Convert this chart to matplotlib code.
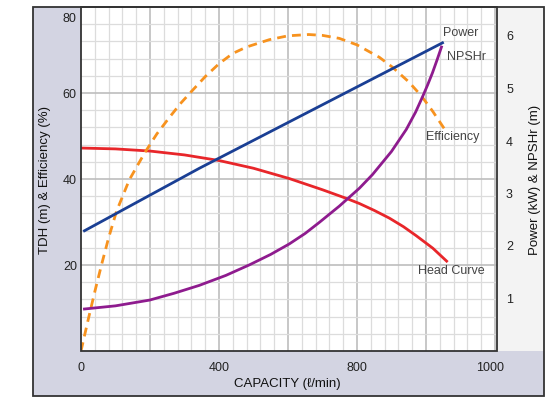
import numpy as np
import matplotlib.pyplot as plt
from matplotlib.patches import Rectangle

# data (capacity in l/min)
head_q = [0, 100, 200, 300, 400, 500, 604, 700, 769, 807, 850, 894, 935, 972, 1020, 1060]
head_h = [47.2, 47.0, 46.5, 45.6, 44.3, 42.5, 40.1, 37.5, 35.5, 34.3, 32.7, 30.9, 28.9, 26.8, 23.9, 20.9]

eff_q = [0, 20, 40, 60, 80, 103, 140, 184, 220, 257, 290, 323, 360, 400, 440, 480,
         546, 600, 660, 700, 749, 800, 865, 903, 950, 987, 1020, 1054]
eff_v = [0, 7.0, 13.8, 20.2, 26.3, 32.5, 39.8, 46.0, 50.5, 54.4, 57.7, 60.6, 63.8, 66.8, 69.2, 70.7,
         72.4, 73.3, 73.6, 73.4, 72.7, 71.2, 68.3, 66.0, 62.6, 59.3, 55.7, 51.6]

pow_q = [10, 343, 1048]
pow_v = [2.29, 3.48, 5.87]

npsh_q = [10, 100, 199, 270, 343, 420, 488, 550, 604, 650, 691, 749, 807, 845, 900,
          943, 970, 990, 1005, 1019, 1032, 1045]
npsh_v = [0.80, 0.86, 0.97, 1.10, 1.25, 1.44, 1.64, 1.84, 2.04, 2.24, 2.45, 2.76, 3.10, 3.36, 3.80,
          4.22, 4.55, 4.84, 5.07, 5.30, 5.54, 5.79]

xtick_pos = [0, 400, 800, 1185]
xtick_lab = ['0', '400', '800', '1000']
ytick_pos = [20, 40, 60, 77.5]
ytick_lab = ['20', '40', '60', '80']
rtick_pos = [1, 2, 3, 4, 5, 6]

W, H = 554, 398
fig = plt.figure(figsize=(W / 100, H / 100), dpi=100)
reg = ['Liberation Sans', 'DejaVu Sans']
lav = '#d3d4e2'
edge = '#333333'

def px(x0, y0, x1, y1, **kw):
    # rectangle in pixel coords (top-left origin)
    fig.patches.append(Rectangle((x0 / W, 1 - y1 / H), (x1 - x0) / W, (y1 - y0) / H,
                                 transform=fig.transFigure, **kw))

px(33, 7, 81, 351, facecolor=lav, edgecolor='none', zorder=-5)
px(33, 351, 544, 396, facecolor=lav, edgecolor='none', zorder=-5)
px(497, 7, 544, 351, facecolor='#f3f3f3', edgecolor='none', zorder=-5)
px(33, 7, 544, 396, facecolor='none', edgecolor=edge, lw=1.3, zorder=10)
px(81, 7, 497, 351, facecolor='none', edgecolor=edge, lw=1.3, zorder=10)

ax = fig.add_axes([81 / W, 1 - 351 / H, 416 / W, 344 / H])
ax.set_zorder(2)
ax.set_xlim(0, 1206)
ax.set_ylim(0, 80)
ax.set_facecolor('white')
for s in ax.spines.values():
    s.set_visible(False)

for x in np.arange(40, 1206, 40):
    major = (x % 200 == 0)
    ax.axvline(x, color='#bdbdbd' if major else '#dcdcdc', lw=1.2 if major else 0.9, zorder=0)
for y in np.arange(4, 80, 4):
    major = (y % 20 == 0)
    ax.axhline(y, color='#bdbdbd' if major else '#dcdcdc', lw=1.2 if major else 0.9, zorder=0)

ax.set_xticks(xtick_pos)
ax.set_xticklabels(xtick_lab, family=reg, fontsize=9, color='#222222')
ax.set_yticks(ytick_pos)
ax.set_yticklabels(ytick_lab, family=reg, fontsize=9, color='#222222')
ax.tick_params(length=0, pad=3)
ax.tick_params(axis='x', pad=8)

ax.plot(head_q, head_h, color='#e8262a', lw=2, zorder=3)
ax.plot(eff_q, eff_v, color='#f7921e', lw=2, ls=(0, (3.2, 2.2)), zorder=3)

ax2 = ax.twinx()
ax2.set_zorder(3)
ax2.set_ylim(0, 344 / 52.5)
for s in ax2.spines.values():
    s.set_visible(False)
ax2.set_yticks(rtick_pos)
ax2.set_yticklabels([str(v) for v in rtick_pos], family=reg, fontsize=9, color='#222222')
ax2.tick_params(length=0, pad=6.5)
ax2.plot(pow_q, pow_v, color='#1a3f94', lw=2, zorder=3)
ax2.plot(npsh_q, npsh_v, color='#8e1b8e', lw=2, zorder=3)

tc = '#444444'
ax2.text(1102, 6.06, 'Power', family=reg, fontsize=9, color=tc, ha='center', va='center')
ax2.text(1117, 5.60, 'NPSHr', family=reg, fontsize=9, color=tc, ha='center', va='center')
ax.text(1078, 49.8, 'Efficiency', family=reg, fontsize=9, color=tc, ha='center', va='center')
ax.text(1073, 18.5, 'Head Curve', family=reg, fontsize=9, color=tc, ha='center', va='center')

fig.text(287 / W, 1 - 384 / H, 'CAPACITY (\u2113/min)', family=reg, fontsize=9.5,
         color='#111111', ha='center', va='center')
fig.text(45 / W, 1 - 180 / H, 'TDH (m) & Efficiency (%)', family=reg, fontsize=9.5,
         color='#111111', ha='center', va='center', rotation=90)
fig.text(535 / W, 1 - 180 / H, 'Power (kW) & NPSHr (m)', family=reg, fontsize=9.5,
         color='#111111', ha='center', va='center', rotation=90)

fig.savefig('out.png', dpi=100)
